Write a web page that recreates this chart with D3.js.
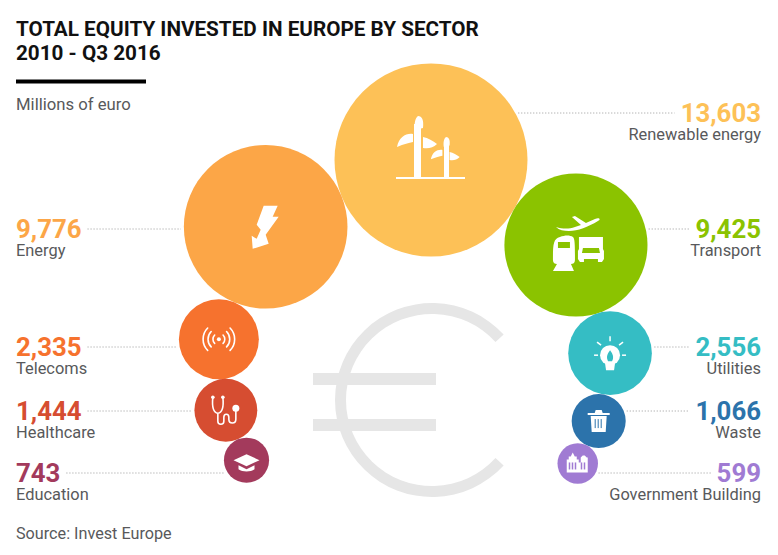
<!DOCTYPE html>
<html>
<head>
<meta charset="utf-8">
<script src="https://cdn.jsdelivr.net/npm/d3@7"></script>
<style>
  html, body { margin: 0; padding: 0; background: #fff; }
  text { font-family: Roboto, sans-serif; }
</style>
</head>
<body>
<div id="chart"></div>
<script>
const sectors = ["Renewable energy", "Energy", "Transport", "Telecoms", "Healthcare", "Education", "Utilities", "Waste", "Government Building"]
const amounts = [13603, 9776, 9425, 2335, 1444, 743, 2556, 1066, 599]
// the transport bubble is drawn smaller than its label says, so bubble size is read on its own
const bubbleAmounts = [13603, 9776, 7480, 2335, 1444, 743, 2556, 1066, 599]
const colors = ["#fdc157", "#fca647", "#8bc300", "#f6722e", "#d64d31", "#a33a5c", "#35bdc4", "#2c73ab", "#a07bd3"]

// every bubble touches its parent, angle says where around the parent it sits
const parents = [-1, 0, 0, 1, 3, 4, 2, 6, 7]
const angles = [0, 158, 30.4, 112.6, 84.4, 67.5, 72.5, 99.5, 116.3]
const sides = ["right", "left", "right", "left", "left", "left", "right", "right", "right"]
const rowY = [113, 229, 229, 347, 411, 473, 347, 411, 473]

const width = 778, height = 555
const grey = "#58595b"
const marginLeft = 16, marginRight = 761

const svg = d3.select("#chart").append("svg")
    .attr("width", width)
    .attr("height", height)
    .style("display", "block")

const r = d3.scaleSqrt().domain([0, 13603]).range([0, 96.5])
const fmt = d3.format(",")

// bubble positions
let nodes = []
sectors.forEach((name, i) => {
    let cx = 431, cy = 160
    if (parents[i] >= 0) {
        const p = nodes[parents[i]]
        const dist = p.r + r(bubbleAmounts[i])
        cx = p.cx + dist * Math.cos(angles[i] * Math.PI / 180)
        cy = p.cy + dist * Math.sin(angles[i] * Math.PI / 180)
    }
    nodes.push({ name: name, value: amounts[i], r: r(bubbleAmounts[i]), cx: cx, cy: cy, color: colors[i], side: sides[i], y: rowY[i] })
})

// title
const title = svg.append("g")
title.append("text").attr("x", marginLeft).attr("y", 36).text("TOTAL EQUITY INVESTED IN EUROPE BY SECTOR")
    .style("font-size", "20.7px").style("font-weight", 700).style("fill", "#111")
title.append("text").attr("x", marginLeft).attr("y", 60).text("2010 - Q3 2016")
    .style("font-size", "20.7px").style("font-weight", 700).style("fill", "#111")
title.append("rect").attr("x", marginLeft).attr("y", 79.5).attr("width", 130).attr("height", 4).attr("fill", "#000")
title.append("text").attr("x", marginLeft).attr("y", 110).text("Millions of euro")
    .style("font-size", "16.7px").style("fill", grey)

// euro sign behind everything
const euro = svg.append("g").attr("transform", "translate(432,400)")
euro.append("path")
    .attr("d", d3.arc().innerRadius(86).outerRadius(97)
        .startAngle(Math.PI / 2 + 0.74).endAngle(2 * Math.PI + Math.PI / 2 - 0.74)())
    .attr("fill", "#e6e6e6")
euro.append("rect").attr("x", -119).attr("y", -27).attr("width", 123).attr("height", 12).attr("fill", "#e6e6e6")
euro.append("rect").attr("x", -119).attr("y", 19).attr("width", 123).attr("height", 12).attr("fill", "#e6e6e6")

// bubbles
svg.append("g").selectAll("circle")
    .data(nodes).enter().append("circle")
    .attr("cx", d => d.cx)
    .attr("cy", d => d.cy)
    .attr("r", d => d.r)
    .attr("fill", d => d.color)

// labels and leader lines
const labels = svg.append("g").selectAll("g")
    .data(nodes).enter().append("g")

labels.append("text")
    .attr("class", "num")
    .attr("x", d => d.side == "left" ? marginLeft : marginRight)
    .attr("y", d => d.y + 8.5)
    .attr("text-anchor", d => d.side == "left" ? "start" : "end")
    .text(d => fmt(d.value))
    .style("font-size", "25.8px")
    .style("font-weight", 700)
    .style("fill", d => d.color)

labels.append("text")
    .attr("x", d => d.side == "left" ? marginLeft : marginRight)
    .attr("y", d => d.y + 26.5)
    .attr("text-anchor", d => d.side == "left" ? "start" : "end")
    .text(d => d.name)
    .style("font-size", "16.4px")
    .style("fill", grey)

labels.append("line")
    .each(function(d) {
        const numW = d3.select(this.parentNode).select(".num").node().getComputedTextLength()
        const dx = Math.sqrt(Math.max(0, d.r * d.r - (d.y - d.cy) * (d.y - d.cy)))
        let x1, x2
        if (d.side == "left") {
            x1 = marginLeft + numW + 6
            x2 = d.cx - dx - 3
        } else {
            x1 = d.cx + dx + 3
            x2 = marginRight - numW - 6
        }
        d3.select(this).attr("x1", x1).attr("x2", x2).attr("y1", d.y).attr("y2", d.y)
    })
    .attr("stroke", "#999")
    .attr("stroke-width", 1)
    .attr("stroke-dasharray", "1 2")

svg.append("text").attr("x", marginLeft).attr("y", 539).text("Source: Invest Europe")
    .style("font-size", "16.2px").style("fill", grey)

// icons, local coordinates around each bubble centre
function iconGroup(i) {
    return svg.append("g").attr("transform", `translate(${nodes[i].cx},${nodes[i].cy})`).attr("fill", "#fff")
}

// wind turbines
const wind = iconGroup(0)
const blades = "M-3,0 C-4,-6 -3,-12 0,-14 C4,-14 6,-10 5,-2 Z M-5,4 C-12,3 -19,7 -21,17 C-14,14 -9,13 -5,12 Z M5,7 C10,8 15,11 19,14 C15,18 10,19 5,18 Z"
wind.append("path").attr("d", blades).attr("transform", "translate(-13,-30)")
wind.append("path").attr("d", blades).attr("transform", "translate(15,-13) scale(0.72)")
wind.append("rect").attr("x", -17).attr("y", -36).attr("width", 7).attr("height", 53)
wind.append("rect").attr("x", 13).attr("y", -20).attr("width", 5).attr("height", 37)
wind.append("rect").attr("x", -35).attr("y", 17).attr("width", 69).attr("height", 2)

// lightning bolt
iconGroup(1).append("path")
    .attr("d", "M-2,-21 L12,-21 L7,-10 L13,-10 L0,8 L3,17 L-13,22 L-14,9 L-9,12 L-5,3 L-9,-2 Z")

// plane, train, truck
const transport = iconGroup(2)
transport.append("path")
    .attr("d", "M-20,-18 C-13,-16 -7,-16 -1,-18 L5,-20 L-4,-28 L-1,-29 L10,-22 L19,-26 C24,-28 25,-25 22,-24 C12,-18 2,-14 -7,-14 C-12,-14 -17,-15 -20,-18 Z")
transport.append("path")
    .attr("d", "M-16,-8 C-11,-10 -6,-10 -3,-8 C-1,-6 -1,0 -1,15 C-1,18 -3,19 -5,19 L-2,26 L-23,26 L-19,19 C-21,19 -23,18 -23,15 C-23,0 -23,-6 -16,-8 Z M-18,-3 L-18,3 L-6,3 L-6,-3 Z")
transport.append("path")
    .attr("d", "M3,-8 L27,-8 L27,4 L28,6 L28,14 L26,17 L22,17 L22,14 L8,14 L8,17 L4,17 L2,14 L2,6 L3,4 Z M7,3 L6,8 L24,8 L23,3 Z")

// signal waves
const telecom = iconGroup(3)
telecom.append("circle").attr("r", 2)
const wavePaths = [6, 11, 16].flatMap(w => [
    `M${w * 0.7},${-w * 0.7} A${w},${w} 0 0 1 ${w * 0.7},${w * 0.7}`,
    `M${-w * 0.7},${-w * 0.7} A${w},${w} 0 0 0 ${-w * 0.7},${w * 0.7}`
])
telecom.selectAll("path").data(wavePaths).enter().append("path")
    .attr("d", d => d)
    .attr("fill", "none").attr("stroke", "#fff").attr("stroke-width", 1.6).attr("stroke-linecap", "round")

// stethoscope
const health = iconGroup(4)
health.append("path")
    .attr("d", "M-13,-13 C-14,-4 -13,2 -8,3 C-3,2 -2,-4 -3,-13 M-8,3 L-8,11 C-8,15 -2,15 -2,11 L-2,7 C-2,3 3,3 3,7 L3,9 C3,14 10,14 10,9 L10,0")
    .attr("fill", "none").attr("stroke", "#fff").attr("stroke-width", 1.6)
health.append("circle").attr("cx", 10).attr("cy", -2).attr("r", 3.5)
health.append("circle").attr("cx", -13).attr("cy", -13).attr("r", 1.8)
health.append("circle").attr("cx", -3).attr("cy", -13).attr("r", 1.8)

// graduation cap
const cap = iconGroup(5)
cap.append("path").attr("d", "M-13,0 L0,-6 L13,0 L0,6 Z")
cap.append("path").attr("d", "M-8,5 L0,9 L8,5 L8,9 C4,12 -4,12 -8,9 Z")

// light bulb
const bulb = iconGroup(6)
bulb.append("circle").attr("cy", 2).attr("r", 10)
bulb.append("path").attr("d", "M-5,10 L5,10 L4,17 L-4,17 Z")
bulb.append("path").attr("d", "M0,-3 C3,1 4,4 2,8 L-2,8 C-4,4 -3,1 0,-3 Z").attr("fill", colors[6])
bulb.selectAll("line").data([[-16, 2, -12, 2], [12, 2, 16, 2], [-13, -11, -9, -8], [9, -8, 13, -11], [0, -17, 0, -12]])
    .enter().append("line")
    .attr("x1", d => d[0]).attr("y1", d => d[1]).attr("x2", d => d[2]).attr("y2", d => d[3])
    .attr("stroke", "#fff").attr("stroke-width", 1.5)

// bin
const bin = iconGroup(7)
bin.append("path").attr("d", "M-11,-8 L-4,-8 L-3,-11 L3,-11 L4,-8 L11,-8 L11,-6 L-11,-6 Z")
bin.append("path").attr("d", "M-8,-5 L8,-5 L7,11 L-7,11 Z")
bin.selectAll("rect").data([-4, -1, 2]).enter().append("rect")
    .attr("x", d => d).attr("y", -2).attr("width", 1).attr("height", 9).attr("fill", colors[7])

// buildings
const gov = iconGroup(8)
gov.append("path").attr("d", "M-11,9 L-11,-4 L-9,-4 L-9,-7 L-7,-7 L-5,-11 L-3,-7 L-1,-7 L-1,-4 L1,-4 L1,-1 L3,-1 L3,-6 L5,-8 L7,-8 L9,-6 L10,-6 L10,9 Z")
gov.selectAll("rect").data([-9, -6, -3, 3, 6]).enter().append("rect")
    .attr("x", d => d).attr("y", -1).attr("width", 1.5).attr("height", 7).attr("fill", colors[8])
</script>
</body>
</html>
